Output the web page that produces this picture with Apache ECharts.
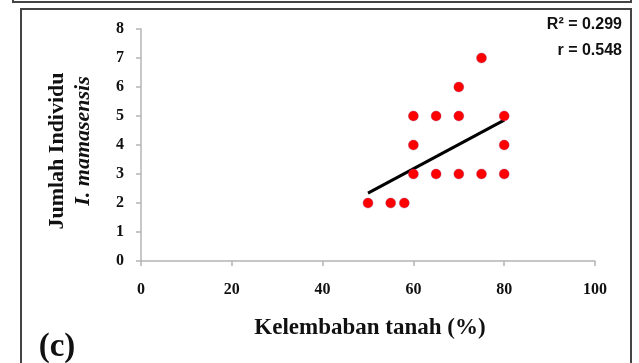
<!DOCTYPE html>
<html>
<head>
<meta charset="utf-8">
<script src="https://cdn.jsdelivr.net/npm/echarts@6/dist/echarts.min.js"></script>
<style>
html,body{margin:0;padding:0;background:#fff;}
#chart{width:639px;height:363px;}
</style>
</head>
<body>
<div id="chart"></div>
<script>
// Data
const moisture = [50, 55, 58, 60, 60, 60, 65, 65, 70, 70, 70, 75, 75, 80, 80, 80];
const individuals = [2, 2, 2, 3, 4, 5, 3, 5, 3, 5, 6, 3, 7, 3, 4, 5];
const trendX = [50, 80];
const trendY = [2.34, 4.86];
const statLines = ['R\u00B2 = 0.299', 'r = 0.548'];
const xTitle = 'Kelembaban tanah (%)';
const yTitle1 = 'Jumlah Individu';
const yTitle2 = 'I. mamasensis';
const panelLabel = '(c)';

const chart = echarts.init(document.getElementById('chart'), null, {renderer: 'canvas'});
const tickFont = {fontFamily: '"Liberation Serif", serif', fontWeight: 'bold', fontSize: 16, color: '#111'};

chart.setOption({
  animation: false,
  backgroundColor: '#fff',
  grid: {left: 141, right: 44, top: 29, bottom: 102, containLabel: false},
  xAxis: {
    type: 'value', min: 0, max: 100, interval: 20,
    axisLine: {show: true, lineStyle: {color: '#b4b4b4', width: 1.5}},
    axisTick: {show: true, length: 5, inside: false, lineStyle: {color: '#b4b4b4', width: 1.5}},
    axisLabel: Object.assign({margin: 21}, tickFont),
    splitLine: {show: false}
  },
  yAxis: {
    type: 'value', min: 0, max: 8, interval: 1,
    axisLine: {show: true, lineStyle: {color: '#b4b4b4', width: 1.5}},
    axisTick: {show: true, length: 5, inside: false, lineStyle: {color: '#b4b4b4', width: 1.5}},
    axisLabel: Object.assign({margin: 17}, tickFont),
    splitLine: {show: false}
  },
  series: [
    {
      type: 'line',
      data: trendX.map((x, i) => [x, trendY[i]]),
      showSymbol: false, symbol: 'none',
      lineStyle: {color: '#000', width: 3},
      z: 2
    },
    {
      type: 'scatter',
      data: moisture.map((x, i) => [x, individuals[i]]),
      symbol: 'circle', symbolSize: 10,
      itemStyle: {color: '#ff0000', borderColor: 'rgba(150,60,120,0.6)', borderWidth: 0.6, opacity: 1},
      z: 3
    }
  ],
  graphic: [
    {type: 'rect', shape: {x: 13, y: -10, width: 618, height: 12}, style: {fill: 'none', stroke: '#444', lineWidth: 2}, silent: true},
    {type: 'rect', shape: {x: 21, y: 9, width: 610, height: 380}, style: {fill: 'none', stroke: '#444', lineWidth: 2}, silent: true},
    {type: 'text', x: 622, y: 25, style: {text: statLines[0], font: 'bold 16px "Liberation Sans", Arial, sans-serif', fill: '#111', align: 'right', verticalAlign: 'middle'}},
    {type: 'text', x: 622, y: 51, style: {text: statLines[1], font: 'bold 16px "Liberation Sans", Arial, sans-serif', fill: '#111', align: 'right', verticalAlign: 'middle'}},
    {type: 'text', x: 370, y: 328, style: {text: xTitle, font: 'bold 23px "Liberation Serif", serif', fill: '#111', align: 'center', verticalAlign: 'middle'}},
    {type: 'text', x: 57, y: 151, rotation: Math.PI / 2, style: {text: yTitle1, font: 'bold 22px "Liberation Serif", serif', fill: '#111', align: 'center', verticalAlign: 'middle'}},
    {type: 'text', x: 83, y: 141, rotation: Math.PI / 2, style: {text: yTitle2, font: 'italic bold 22px "Liberation Serif", serif', fill: '#111', align: 'center', verticalAlign: 'middle'}},
    {type: 'text', x: 57, y: 347, style: {text: panelLabel, font: 'bold 33px "Liberation Serif", serif', fill: '#111', align: 'center', verticalAlign: 'middle'}}
  ]
});
</script>
</body>
</html>
